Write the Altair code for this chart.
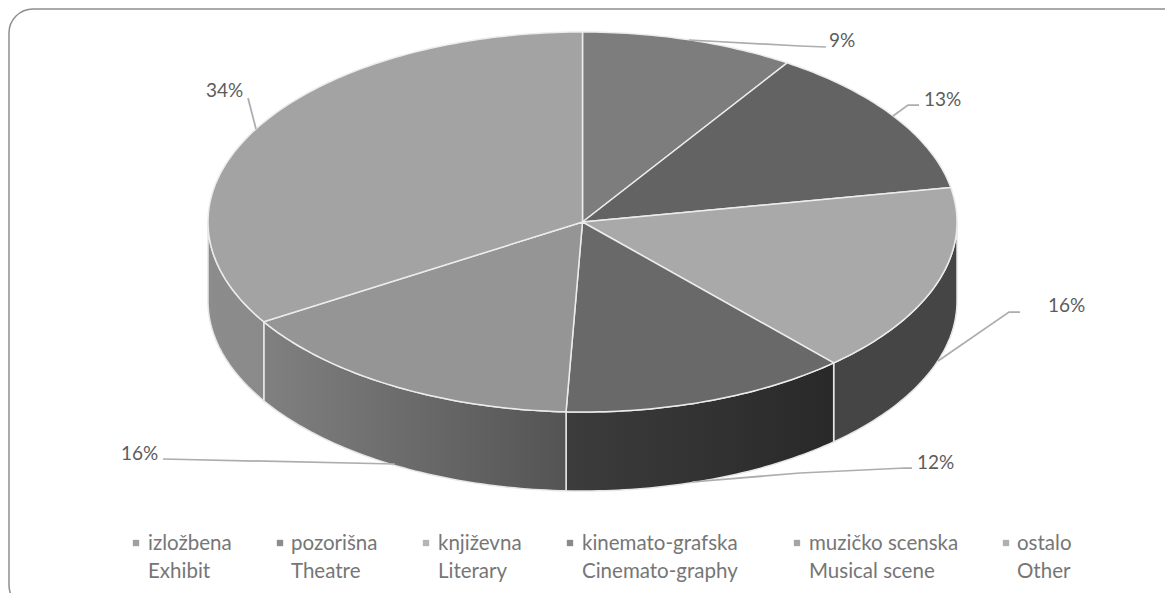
import math
import altair as alt
import pandas as pd

# ---- values ----
categories = ["izložbena", "pozorišna", "književna", "kinemato-grafska", "muzičko scenska", "ostalo"]
categories_en = ["Exhibit", "Theatre", "Literary", "Cinemato-graphy", "Musical scene", "Other"]
shares = [9.2, 12.9, 16.2, 12.4, 15.5, 33.8]
pct_labels = ["9%", "13%", "16%", "12%", "16%", "34%"]

# ---- styling ----
top_colors = ["#7d7d7d", "#636363", "#a9a9a9", "#696969", "#959595", "#a3a3a3"]
wall_stops = {
    2: ("#454545", "#454545"),
    3: ("#3c3c3c", "#292929"),
    4: ("#808080", "#545454"),
    5: ("#8c8c8c", "#8a8a8a"),
}
legend_colors = ["#a0a0a0", "#8c8c8c", "#b5b5b5", "#8a8a8a", "#a5a5a5", "#b0b0b0"]

# ---- layout (page pixels; the chart starts 8px into the page) ----
OX, OY = 8, 8
W, H = 1157, 585
CX, CY, RX, RY, DEPTH = 582.5 - OX, 222 - OY, 374.5, 190, 79
label_xy = [(829, 41), (924, 100), (1048, 306), (917, 463), (121, 454), (206, 91)]
leaders = [
    [(689, 40), (800, 46), (826, 47)],
    [(893, 116), (908, 105), (919, 105)],
    [(938, 361), (1009, 312), (1020, 312)],
    [(692, 482), (800, 473), (905, 468), (912, 468)],
    [(163, 459), (395, 464)],
    [(248, 98), (256, 129)],
]
legend_sq_x = [136, 280, 426, 570, 797, 1006]
legend_txt_x = [148, 291, 438, 582, 809, 1017]
legend_y = (544, 572)
legend_sq_y = 543
FONT = "Lato"


def pt(deg, dz=0):
    a = math.radians(deg)
    return [CX + RX * math.sin(a), CY - RY * math.cos(a) + dz]


def arc(a0, a1, dz=0):
    n = max(2, int(abs(a1 - a0)) + 1)
    return [pt(a0 + (a1 - a0) * i / n, dz) for i in range(n + 1)]


def feature(ring):
    return {"type": "Feature", "properties": {},
            "geometry": {"type": "Polygon", "coordinates": [ring + [ring[0]]]}}


PROJ = dict(type="identity", scale=1, translate=[0, 0])
cum = [0.0]
for s in shares:
    cum.append(cum[-1] + s)
scale = 360.0 / cum[-1]
angles = [c * scale for c in cum]

layers = []

# frame
layers.append(
    alt.Chart(pd.DataFrame({"a": [0]})).mark_rect(
        fill="white", stroke="#8e8e8e", strokeWidth=1.5, cornerRadius=24
    ).encode(x=alt.value(1), x2=alt.value(1187 - OX), y=alt.value(9 - OY), y2=alt.value(609 - OY))
)

# side walls (front half of the disc only)
for i, (c0, c1) in wall_stops.items():
    a0 = max(angles[i], 90)
    a1 = min(angles[i + 1], 270)
    ring = arc(a0, a1) + arc(a1, a0, DEPTH)
    grad = alt.LinearGradient(
        gradient="linear", x1=0, x2=1, y1=0, y2=0,
        stops=[alt.GradientStop(offset=0, color=c0), alt.GradientStop(offset=1, color=c1)],
    )
    layers.append(
        alt.Chart(alt.InlineData(values=[feature(ring)])).mark_geoshape(
            fill=grad, stroke="#e6e6e6", strokeWidth=1.5
        ).project(**PROJ)
    )

# top slices
for i, col in enumerate(top_colors):
    ring = [[CX, CY]] + arc(angles[i], angles[i + 1])
    layers.append(
        alt.Chart(alt.InlineData(values=[feature(ring)])).mark_geoshape(
            fill=col, stroke="#ececec", strokeWidth=1.5
        ).project(**PROJ)
    )

# leader lines
rows = []
for k, poly in enumerate(leaders):
    for j, (x, y) in enumerate(poly):
        rows.append({"k": k, "j": j, "x": x - OX, "y": y - OY})
layers.append(
    alt.Chart(pd.DataFrame(rows)).mark_line(color="#adadad", strokeWidth=1.75).encode(
        x=alt.X("x:Q", scale=None), y=alt.Y("y:Q", scale=None),
        detail="k:N", order="j:Q",
    )
)

# data labels
lab = pd.DataFrame({
    "t": pct_labels,
    "x": [p[0] - OX for p in label_xy],
    "y": [p[1] - OY for p in label_xy],
})
layers.append(
    alt.Chart(lab).mark_text(align="left", baseline="middle", font=FONT, fontSize=19, color="#5c5c5c").encode(
        x=alt.X("x:Q", scale=None), y=alt.Y("y:Q", scale=None), text="t:N"
    )
)

# legend
sq = pd.DataFrame({
    "c": categories,
    "x": [v - OX for v in legend_sq_x],
    "y": [legend_sq_y - OY] * 6,
    "col": legend_colors,
})
layers.append(
    alt.Chart(sq).mark_square(size=40, opacity=1).encode(
        x=alt.X("x:Q", scale=None), y=alt.Y("y:Q", scale=None),
        color=alt.Color("col:N", scale=None),
    )
)
leg = pd.DataFrame({
    "t": categories + categories_en,
    "x": [v - OX for v in legend_txt_x] * 2,
    "y": [legend_y[0] - OY] * 6 + [legend_y[1] - OY] * 6,
})
layers.append(
    alt.Chart(leg).mark_text(align="left", baseline="middle", font=FONT, fontSize=20.5, color="#767676").encode(
        x=alt.X("x:Q", scale=None), y=alt.Y("y:Q", scale=None), text="t:N"
    )
)

chart = alt.layer(*layers).properties(
    width=W, height=H, padding=0, autosize=alt.AutoSizeParams(type="none")
).configure_view(stroke=None)

chart.save("out.html", embed_options={"renderer": "svg", "actions": False})
